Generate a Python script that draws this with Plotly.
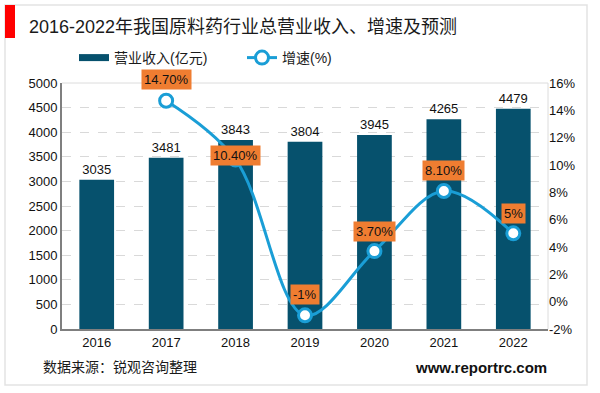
import plotly.graph_objects as go

years = [2016, 2017, 2018, 2019, 2020, 2021, 2022]
revenue = [3035, 3481, 3843, 3804, 3945, 4265, 4479]
growth_years = [2017, 2018, 2019, 2020, 2021, 2022]
growth = [14.7, 10.4, -1, 3.7, 8.1, 5]
growth_labels = ["14.70%", "10.40%", "-1%", "3.70%", "8.10%", "5%"]
left_ticks = list(range(0, 5001, 500))
right_ticks = list(range(-2, 17, 2))
right_tick_text = [f"{v}%" for v in right_ticks]

# label vertical offsets (px) – style only
label_shift = [21, 4, 21, 20, 20, 20]

FONT = "Liberation Sans, Noto Sans CJK SC, sans-serif"
BAR = "#06516d"
LINE = "#1a9ed6"
ORANGE = "#ef7d31"

# plot-area geometry in px (for paper-coordinate decorations)
PL, PR, PT, PB = 62, 548, 83, 329
PW, PH = PR - PL, PB - PT


def px(x):
    return (x - PL) / PW


def py(y):
    return (PB - y) / PH


fig = go.Figure()
fig.add_trace(go.Bar(
    x=years, y=revenue, name="营业收入(亿元)", showlegend=False,
    marker=dict(color=BAR, line=dict(width=0)),
    width=0.5,
    text=[str(v) for v in revenue], textposition="outside",
    textfont=dict(size=13, color="#111", family=FONT),
    cliponaxis=False,
))
# legend entry for bars drawn as a wide swatch
fig.add_trace(go.Scatter(
    x=[None], y=[None], name="营业收入(亿元)", mode="lines",
    line=dict(color=BAR, width=7),
))
fig.add_trace(go.Scatter(
    x=growth_years, y=growth, name="增速(%)", yaxis="y2",
    mode="lines+markers",
    line=dict(color=LINE, width=3, shape="spline", smoothing=1.0),
    marker=dict(size=13, color="white", line=dict(color=LINE, width=3)),
    cliponaxis=False,
))

for x, y, t, s in zip(growth_years, growth, growth_labels, label_shift):
    fig.add_annotation(
        x=x, y=y, yref="y2", text=t, showarrow=False,
        yshift=s, bgcolor=ORANGE, borderpad=2,
        font=dict(size=13, color="#111", family=FONT),
    )

# outer frame and red marker
fig.add_shape(type="rect", xref="paper", yref="paper",
              x0=px(5), x1=px(587), y0=py(385), y1=py(5),
              line=dict(color="#e3e3e3", width=1.5), layer="below")
fig.add_shape(type="rect", xref="paper", yref="paper",
              x0=px(5), x1=px(15), y0=py(38), y1=py(5),
              line=dict(width=0), fillcolor="#ff0000")
# plot border top/right
fig.add_shape(type="line", xref="paper", yref="paper", x0=0, x1=1, y0=1, y1=1,
              line=dict(color="#dcdcdc", width=1))
fig.add_shape(type="line", xref="paper", yref="paper", x0=1, x1=1, y0=0, y1=1,
              line=dict(color="#dcdcdc", width=1))

fig.add_annotation(xref="paper", yref="paper", x=px(27), y=py(27),
                   text="2016-2022年我国原料药行业总营业收入、增速及预测",
                   showarrow=False, xanchor="left", yanchor="middle",
                   font=dict(size=18, color="#1a1a1a", family=FONT))
fig.add_annotation(xref="paper", yref="paper", x=px(41), y=py(367),
                   text="数据来源：锐观咨询整理",
                   showarrow=False, xanchor="left", yanchor="middle",
                   font=dict(size=14, color="#1a1a1a", family=FONT))
fig.add_annotation(xref="paper", yref="paper", x=px(549), y=py(367),
                   text="<b>www.reportrc.com</b>",
                   showarrow=False, xanchor="right", yanchor="middle",
                   font=dict(size=15, color="#111", family=FONT))

fig.update_layout(
    width=600, height=393,
    margin=dict(l=PL, r=600 - PR, t=PT, b=393 - PB),
    paper_bgcolor="white", plot_bgcolor="white",
    font=dict(family=FONT, size=13, color="#111"),
    showlegend=True,
    legend=dict(orientation="h", x=px(74), xanchor="left", y=py(58),
                yanchor="middle", font=dict(size=14, color="#1a1a1a"),
                entrywidth=123, entrywidthmode="pixels",
                bgcolor="rgba(0,0,0,0)"),
    xaxis=dict(range=[2015.5, 2022.5], tickvals=years, showline=True,
               linecolor="#7f7f7f", linewidth=2,
               ticks="", showgrid=False, zeroline=False, tickfont=dict(size=13)),
    yaxis=dict(range=[0, 5000], tickvals=left_ticks, showline=True,
               linecolor="#7f7f7f", linewidth=2,
               showgrid=True, gridcolor="#d9d9d9", griddash="dash", gridwidth=1,
               zeroline=False, tickfont=dict(size=13), ticks=""),
    yaxis2=dict(range=[-2, 16], tickvals=right_ticks, ticktext=right_tick_text,
                overlaying="y", side="right", showgrid=False, zeroline=False,
                showline=False, tickfont=dict(size=13), ticks=""),
)

fig.write_html("out.html", config={"displayModeBar": False},
               post_script="document.body.style.margin='0px';")
